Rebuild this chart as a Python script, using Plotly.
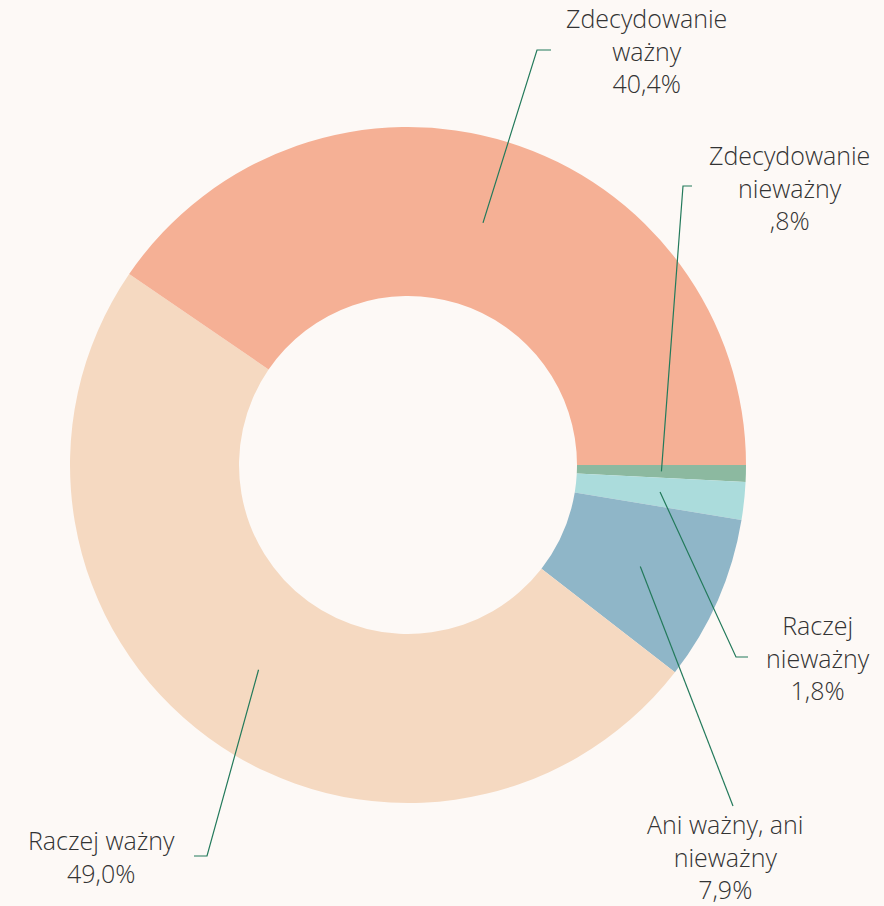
import math
import plotly.graph_objects as go

# Data (listed counter-clockwise from 3 o'clock, as in the source)
categories = ["Zdecydowanie ważny", "Raczej ważny", "Ani ważny, ani nieważny",
              "Raczej nieważny", "Zdecydowanie nieważny"]
values = [40.4, 49.0, 7.9, 1.8, 0.8]
value_labels = ["40,4%", "49,0%", "7,9%", "1,8%", ",8%"]
display_names = ["Zdecydowanie<br>ważny", "Raczej ważny", "Ani ważny, ani<br>nieważny",
                 "Raczej<br>nieważny", "Zdecydowanie<br>nieważny"]
colors = ["#F5B095", "#F5D9C1", "#8FB6C8", "#ABDCDC", "#8CB9A0"]

W, H = 884, 906
BG = "#FDF9F6"
LINE = "#237A5B"
TXT = "#333333"

# pie placement in pixels
cx, cy, R = 408, 465, 338
hole = 0.5

# label layout (pixels): text centre, elbow point, end of horizontal tick (None = no tick)
label_layout = [
    dict(text=(646, 51), elbow=(537, 50), tick=(551, 50)),
    dict(text=(101, 856), elbow=(207, 856), tick=(194, 856)),
    dict(text=(725, 856), elbow=(733, 806), tick=None),
    dict(text=(818, 657), elbow=(736, 657), tick=(748, 657)),
    dict(text=(789, 187), elbow=(683, 186), tick=(692, 186)),
]


def px(x):
    return x / W


def py(y):
    return 1 - y / H


fig = go.Figure()
# plotly draws clockwise from 3 o'clock, so feed the slices in reverse order
fig.add_trace(go.Pie(
    labels=categories[::-1],
    values=values[::-1],
    sort=False,
    direction="clockwise",
    rotation=90,
    hole=hole,
    marker=dict(colors=colors[::-1], line=dict(width=0)),
    textinfo="none",
    hoverinfo="label+percent",
    showlegend=False,
    domain=dict(x=[px(cx - R), px(cx + R)], y=[py(cy + R), py(cy - R)]),
))

# leader lines from the middle of each slice
total = sum(values)
cum = 0
shapes = []
annotations = []
r_mid = R * (1 + hole) / 2
for v, name, vl, lay in zip(values, display_names, value_labels, label_layout):
    mid = (cum + v / 2) / total * 2 * math.pi
    cum += v
    ax = cx + r_mid * math.cos(mid)
    ay = cy - r_mid * math.sin(mid)
    pts = [(ax, ay), lay["elbow"]]
    if lay["tick"]:
        pts.append(lay["tick"])
    path = "M " + " L ".join(f"{px(x)},{py(y)}" for x, y in pts)
    shapes.append(dict(type="path", path=path, xref="paper", yref="paper",
                       line=dict(color=LINE, width=1.2), layer="above"))
    tx, ty = lay["text"]
    annotations.append(dict(
        x=px(tx), y=py(ty), xref="paper", yref="paper",
        text=f"{name}<br>{vl}", showarrow=False, align="center",
        xanchor="center", yanchor="middle",
        font=dict(family="Open Sans", size=25, color=TXT, weight=300),
    ))

fig.update_layout(
    width=W, height=H,
    margin=dict(l=0, r=0, t=0, b=0),
    paper_bgcolor=BG,
    plot_bgcolor=BG,
    shapes=shapes,
    annotations=annotations,
)

fig.write_html("out.html", config={"displayModeBar": False},
               post_script="document.body.style.margin='0';")
